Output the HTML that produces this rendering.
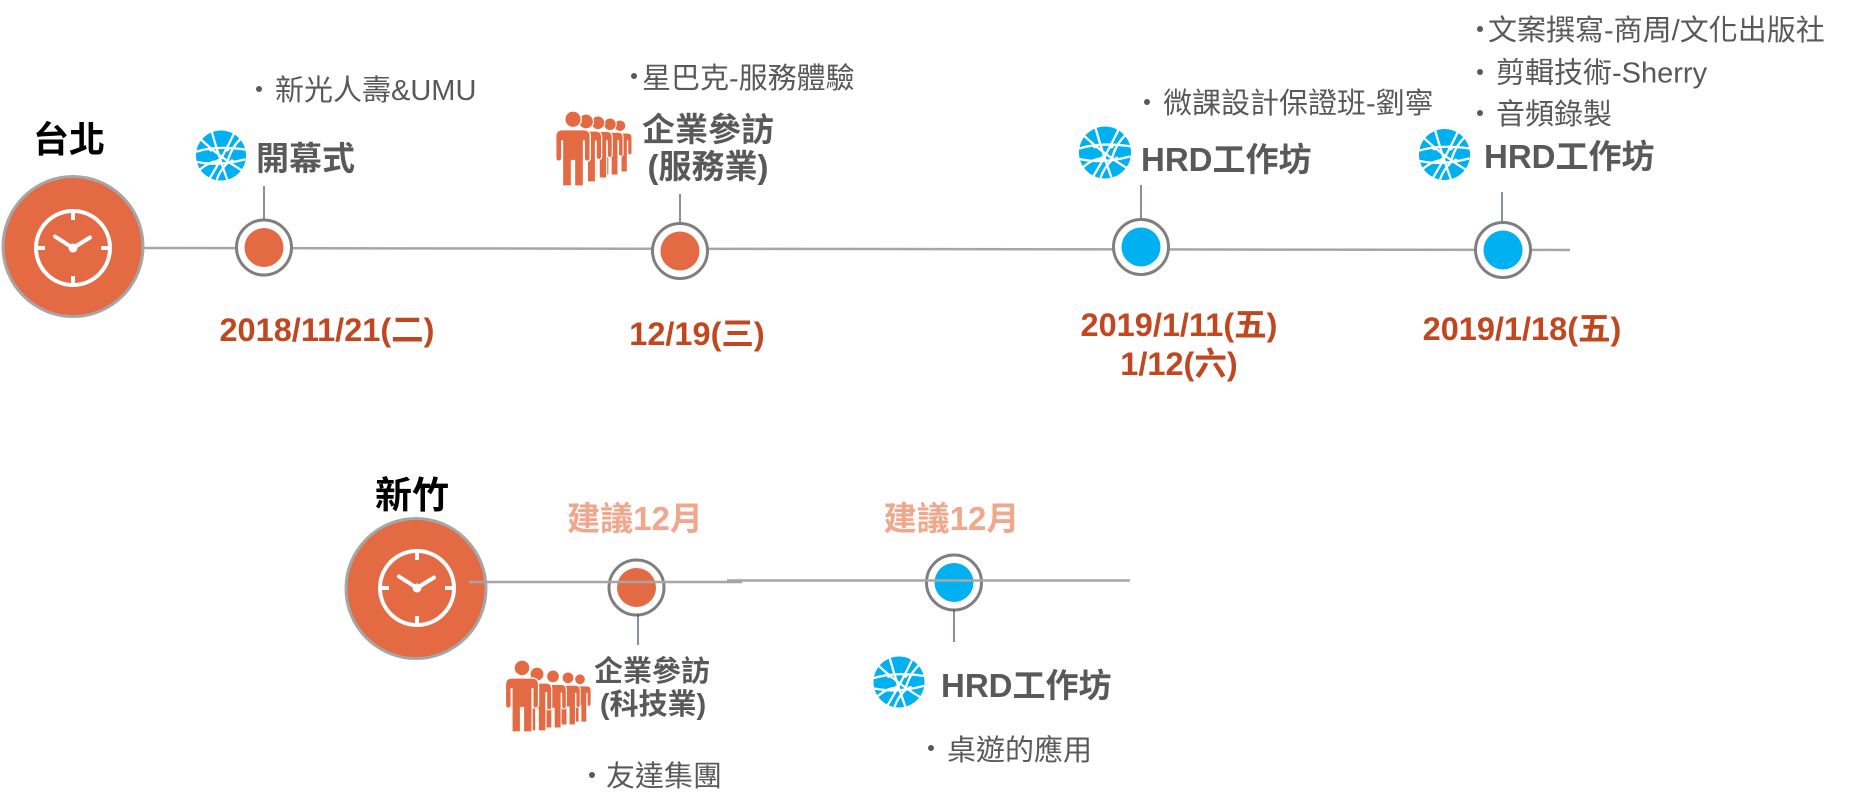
<!DOCTYPE html>
<html>
<head>
<meta charset="utf-8">
<style>
  html,body{margin:0;padding:0;background:#fff;}
  svg{display:block;}
  text{font-family:"Liberation Sans","Noto Sans CJK TC",sans-serif;}
</style>
</head>
<body>
<svg xmlns="http://www.w3.org/2000/svg" width="1860" height="810" viewBox="0 0 1860 810">
  <defs>
    <symbol id="globe" viewBox="0 0 100 100">
      <circle cx="50" cy="50" r="50" fill="#00B0F0"/>
      <g fill="none" stroke="#fff" stroke-width="4.5" stroke-linecap="round">
        <path d="M2,42 Q40,30 98,38"/>
        <path d="M3,63 Q45,72 97,58"/>
        <path d="M32,4 Q45,50 62,97"/>
        <path d="M76,6 Q55,50 28,95"/>
        <path d="M12,20 Q50,55 92,80"/>
        <path d="M88,18 Q70,35 62,66 Q48,80 42,97"/>
        <path d="M8,78 Q30,60 45,62"/>
      </g>
      <g fill="#fff">
        <circle cx="45" cy="62" r="5"/>
        <circle cx="62" cy="37" r="5"/>
        <circle cx="72" cy="62" r="4"/>
        <circle cx="30" cy="38" r="4"/>
      </g>
    </symbol>
    <g id="person">
      <circle cx="0" cy="11" r="11"/>
      <path d="M-14,25 L14,25 Q23,25 23,34 L23,62 Q23,67 19,67 Q15,67 15,62 L15,40 L14,40 L14,100 L2,100 L2,66 L-2,66 L-2,100 L-14,100 L-14,40 L-15,40 L-15,62 Q-15,67 -19,67 Q-23,67 -23,62 L-23,34 Q-23,25 -14,25 Z"/>
    </g>
  </defs>

  <rect width="1860" height="810" fill="#fff"/>

  <!-- ============ TOP TIMELINE (台北) ============ -->
  <line x1="140" y1="248" x2="1570" y2="250" stroke="#A6A6A6" stroke-width="2.5"/>

  <!-- big clock 1 -->
  <circle cx="73" cy="246.5" r="70" fill="#E36A43" stroke="#A6A6A6" stroke-width="3"/>
  <g transform="translate(73,248)">
    <circle r="37" fill="none" stroke="#fff" stroke-width="4"/>
    <path d="M0,-37 V-28 M37,0 H28 M0,37 V28 M-37,0 H-28" stroke="#fff" stroke-width="4"/>
    <path d="M-18,-11.5 L0,0 L17,-10.5" fill="none" stroke="#fff" stroke-width="4" stroke-linecap="round" stroke-linejoin="round"/>
    <circle r="4.5" fill="#fff"/>
  </g>
  <text x="33" y="152" font-size="36" font-weight="bold" fill="#000">台北</text>

  <!-- node 1 -->
  <line x1="264" y1="186" x2="264" y2="219" stroke="#44546A" stroke-width="1.3"/>
  <circle cx="264" cy="247.5" r="27.5" fill="#fff" stroke="#7F7F7F" stroke-width="3"/>
  <circle cx="264" cy="247.5" r="19.5" fill="#E36A43"/>
  <use href="#globe" x="196" y="130.5" width="50" height="50"/>
  <text x="256" y="170" font-size="33" font-weight="bold" fill="#595959">開幕式</text>
  <circle cx="259" cy="89" r="3" fill="#595959"/>
  <text x="275" y="100" font-size="29" fill="#595959">新光人壽&amp;UMU</text>
  <text x="327" y="341" font-size="32.5" font-weight="bold" fill="#C0471F" text-anchor="middle">2018/11/21(二)</text>

  <!-- node 2 -->
  <line x1="680" y1="194" x2="680" y2="223" stroke="#44546A" stroke-width="1.3"/>
  <circle cx="680" cy="251" r="27.5" fill="#fff" stroke="#7F7F7F" stroke-width="3"/>
  <circle cx="680" cy="251" r="19.5" fill="#E36A43"/>
  <g fill="#E36A43" stroke="#fff" stroke-width="1.8">
    <use href="#person" transform="translate(620,120) scale(0.52)"/>
    <use href="#person" transform="translate(610,118) scale(0.57)"/>
    <use href="#person" transform="translate(598,116) scale(0.62)"/>
    <use href="#person" transform="translate(586,114) scale(0.68)"/>
    <use href="#person" transform="translate(573,111) scale(0.75)"/>
  </g>
  <text x="708" y="141" font-size="33" font-weight="bold" fill="#595959" text-anchor="middle">企業參訪</text>
  <text x="708" y="178" font-size="33" font-weight="bold" fill="#595959" text-anchor="middle">(服務業)</text>
  <circle cx="634" cy="76" r="3" fill="#595959"/>
  <text x="642" y="88" font-size="29" fill="#595959">星巴克-服務體驗</text>
  <text x="697" y="345" font-size="32.5" font-weight="bold" fill="#C0471F" text-anchor="middle">12/19(三)</text>

  <!-- node 3 -->
  <line x1="1141" y1="185" x2="1141" y2="219" stroke="#44546A" stroke-width="1.3"/>
  <circle cx="1141" cy="247" r="27.5" fill="#fff" stroke="#7F7F7F" stroke-width="3"/>
  <circle cx="1141" cy="247" r="19.5" fill="#00B0F0"/>
  <use href="#globe" x="1079" y="126.5" width="52" height="52"/>
  <text x="1141" y="171" font-size="33" font-weight="bold" fill="#595959">HRD工作坊</text>
  <circle cx="1147" cy="102" r="3" fill="#595959"/>
  <text x="1163" y="113" font-size="29" fill="#595959">微課設計保證班-劉寧</text>
  <text x="1179" y="336" font-size="32.5" font-weight="bold" fill="#C0471F" text-anchor="middle">2019/1/11(五)</text>
  <text x="1179" y="375" font-size="32.5" font-weight="bold" fill="#C0471F" text-anchor="middle">1/12(六)</text>

  <!-- node 4 -->
  <line x1="1502" y1="192" x2="1502" y2="223" stroke="#44546A" stroke-width="1.3"/>
  <circle cx="1503" cy="250" r="27.5" fill="#fff" stroke="#7F7F7F" stroke-width="3"/>
  <circle cx="1503" cy="250" r="19.5" fill="#00B0F0"/>
  <use href="#globe" x="1419" y="129" width="51" height="51"/>
  <text x="1484" y="168" font-size="33" font-weight="bold" fill="#595959">HRD工作坊</text>
  <circle cx="1480" cy="29" r="3" fill="#595959"/>
  <text x="1488" y="40" font-size="29" fill="#595959">文案撰寫-商周/文化出版社</text>
  <circle cx="1480" cy="72" r="3" fill="#595959"/>
  <text x="1496" y="82.5" font-size="29" fill="#595959">剪輯技術-Sherry</text>
  <circle cx="1480" cy="113" r="3" fill="#595959"/>
  <text x="1496" y="124" font-size="29" fill="#595959">音頻錄製</text>
  <text x="1522" y="340" font-size="32.5" font-weight="bold" fill="#C0471F" text-anchor="middle">2019/1/18(五)</text>

  <!-- ============ BOTTOM TIMELINE (新竹) ============ -->
  <circle cx="416" cy="588.5" r="70" fill="#E36A43" stroke="#A6A6A6" stroke-width="3"/>
  <g transform="translate(417,588)">
    <circle r="37" fill="none" stroke="#fff" stroke-width="4"/>
    <path d="M0,-37 V-28 M37,0 H28 M0,37 V28 M-37,0 H-28" stroke="#fff" stroke-width="4"/>
    <path d="M-18,-11.5 L0,0 L17,-10.5" fill="none" stroke="#fff" stroke-width="4" stroke-linecap="round" stroke-linejoin="round"/>
    <circle r="4.5" fill="#fff"/>
  </g>
  <text x="375" y="508" font-size="37" font-weight="bold" fill="#000">新竹</text>

  <!-- node 5 -->
  <circle cx="636.5" cy="587.5" r="27.5" fill="#fff" stroke="#7F7F7F" stroke-width="3"/>
  <circle cx="636.5" cy="587.5" r="19.5" fill="#E36A43"/>
  <line x1="638" y1="614" x2="638" y2="645" stroke="#44546A" stroke-width="1.3"/>
  <text x="635" y="530" font-size="33" font-weight="bold" fill="#F2A68B" text-anchor="middle">建議12月</text>
  <g fill="#E36A43" stroke="#fff" stroke-width="1.8">
    <use href="#person" transform="translate(580,674) scale(0.48)"/>
    <use href="#person" transform="translate(568,672) scale(0.53)"/>
    <use href="#person" transform="translate(553,670) scale(0.58)"/>
    <use href="#person" transform="translate(537,667) scale(0.64)"/>
    <use href="#person" transform="translate(522,660) scale(0.72)"/>
  </g>
  <text x="652" y="681" font-size="29" font-weight="bold" fill="#595959" text-anchor="middle">企業參訪</text>
  <text x="653" y="714" font-size="29" font-weight="bold" fill="#595959" text-anchor="middle">(科技業)</text>
  <circle cx="592" cy="775" r="3" fill="#595959"/>
  <text x="606" y="786" font-size="29" fill="#595959">友達集團</text>

  <!-- node 6 -->
  <circle cx="954" cy="582.5" r="27.5" fill="#fff" stroke="#7F7F7F" stroke-width="3"/>
  <circle cx="954" cy="582.5" r="19.5" fill="#00B0F0"/>
  <line x1="954" y1="609" x2="954" y2="642" stroke="#44546A" stroke-width="1.3"/>
  <text x="951.5" y="530" font-size="33" font-weight="bold" fill="#F2A68B" text-anchor="middle">建議12月</text>
  <use href="#globe" x="873" y="656.5" width="52" height="51"/>
  <text x="941" y="697" font-size="33" font-weight="bold" fill="#595959">HRD工作坊</text>
  <circle cx="931" cy="748" r="3" fill="#595959"/>
  <text x="947" y="760" font-size="29" fill="#595959">桌遊的應用</text>

  <!-- bottom line drawn on top -->
  <line x1="469" y1="582" x2="742" y2="582" stroke="#A6A6A6" stroke-width="2.5"/>
  <line x1="727" y1="580.5" x2="1130" y2="580.5" stroke="#A6A6A6" stroke-width="2.5"/>
</svg>
</body>
</html>
